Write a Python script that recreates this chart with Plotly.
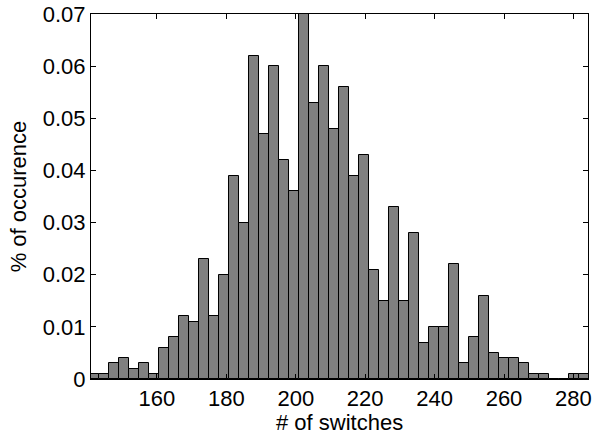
import plotly.graph_objects as go

# Histogram bin centers (# of switches)
bin_centers = [
    141.94, 144.82, 147.70, 150.58, 153.46, 156.34, 159.22, 162.10, 164.98, 167.86,
    170.74, 173.62, 176.50, 179.38, 182.26, 185.14, 188.02, 190.90, 193.78, 196.66,
    199.54, 202.42, 205.30, 208.18, 211.06, 213.94, 216.82, 219.70, 222.58, 225.46,
    228.34, 231.22, 234.10, 236.98, 239.86, 242.74, 245.62, 248.50, 251.38, 254.26,
    257.14, 260.02, 262.90, 265.78, 268.66, 271.54, 274.42, 277.30, 280.18, 283.06,
]
bin_width = 2.88

# Fraction of occurrence per bin
occurrence = [
    0.001, 0.001, 0.003, 0.004, 0.002, 0.003, 0.001, 0.006, 0.008, 0.012,
    0.011, 0.023, 0.012, 0.020, 0.039, 0.030, 0.062, 0.047, 0.060, 0.042,
    0.036, 0.070, 0.053, 0.060, 0.048, 0.056, 0.039, 0.043, 0.021, 0.015,
    0.033, 0.015, 0.028, 0.007, 0.010, 0.010, 0.022, 0.003, 0.008, 0.016,
    0.005, 0.004, 0.004, 0.003, 0.001, 0.001, 0.000, 0.000, 0.001, 0.001,
]

x_ticks = [160, 180, 200, 220, 240, 260, 280]
y_ticks = [0, 0.01, 0.02, 0.03, 0.04, 0.05, 0.06, 0.07]
y_tick_labels = ["0", "0.01", "0.02", "0.03", "0.04", "0.05", "0.06", "0.07"]

fig = go.Figure(
    go.Bar(
        x=bin_centers,
        y=occurrence,
        width=bin_width,
        marker=dict(color="#808080", line=dict(color="black", width=1)),
    )
)

font = dict(family="Liberation Sans, Arial, sans-serif", size=22, color="black")

fig.update_layout(
    width=593,
    height=439,
    margin=dict(l=91, r=5, t=14, b=60),
    paper_bgcolor="white",
    plot_bgcolor="white",
    font=font,
    showlegend=False,
    bargap=0,
    xaxis=dict(
        range=[141.0, 284.2],
        tickvals=x_ticks,
        ticks="inside",
        ticklen=5,
        tickcolor="black",
        showline=True,
        linecolor="black",
        linewidth=1,
        mirror="allticks",
        showgrid=False,
        zeroline=False,
        tickfont=font,
        automargin=False,
    ),
    yaxis=dict(
        range=[0, 0.07],
        tickvals=y_ticks,
        ticktext=y_tick_labels,
        ticks="inside",
        ticklen=5,
        tickcolor="black",
        showline=True,
        linecolor="black",
        linewidth=1,
        mirror="allticks",
        showgrid=False,
        zeroline=False,
        title=dict(text="% of occurence", font=font, standoff=10),
        tickfont=font,
        automargin=False,
    ),
    annotations=[
        dict(
            text="# of switches",
            xref="paper", yref="paper",
            x=0.5, y=-0.12,
            xanchor="center", yanchor="middle",
            showarrow=False,
            font=font,
        )
    ],
)

fig.write_html(
    "out.html",
    config={"displayModeBar": False},
    post_script="document.body.style.margin='0';document.body.style.overflow='hidden';",
)
